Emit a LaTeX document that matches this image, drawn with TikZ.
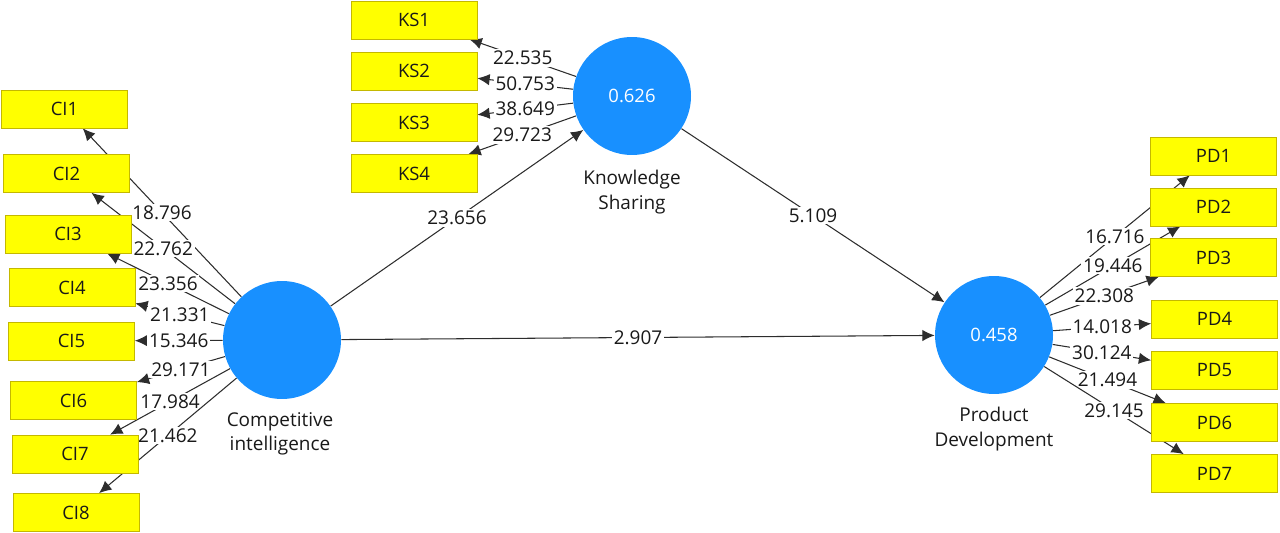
\documentclass[tikz,border=0pt]{standalone}
\usepackage{fontspec}
\setmainfont{Open Sans}
\usetikzlibrary{arrows.meta}
\pgfdeclarelayer{bg}
\pgfsetlayers{bg,main}
\definecolor{lvblue}{RGB}{24,144,255}
\definecolor{mvyellow}{RGB}{255,255,0}
\definecolor{mvborder}{RGB}{196,184,0}
\definecolor{pathgray}{RGB}{45,45,45}
\definecolor{txtgray}{RGB}{25,25,25}

\begin{document}
\begin{tikzpicture}[x=0.02cm,y=-0.02cm,
  mv/.style={draw=mvborder,fill=mvyellow,minimum width=2.52cm,minimum height=0.76cm,inner sep=0pt,text=txtgray,font=\fontsize{10.5}{12}\selectfont},
  lv/.style={circle,fill=lvblue,minimum size=2.36cm,inner sep=0pt,text=white,font=\fontsize{10.5}{12}\selectfont},
  lvname/.style={align=center,text=txtgray,font=\fontsize{10.8}{14}\selectfont},
  arr/.style={draw=pathgray,line width=0.6pt,-{Latex[length=7pt,width=6.5pt]}},
  val/.style={fill=white,inner sep=1pt,text=txtgray,font=\fontsize{10.8}{12}\selectfont}]
\useasboundingbox (0,0) rectangle (1280,533);
%----------------latent variables----------
\node[lv] (ci) at (282,340) {};
\node[lv] (ks) at (632,96) {0.626};
\node[lv] (pd) at (994,335) {0.458};
\node[lvname] (ciname) at (280,434) {Competitive\\intelligence};
\node[lvname] (ksname) at (632,192) {Knowledge\\Sharing};
\node[lvname] (pdname) at (994,429) {Product\\Development};
%----------------indicators CI----------
\node[mv] (ci1) at (64.5,109) {CI1};
\node[mv] (ci2) at (66.5,173.5) {CI2};
\node[mv] (ci3) at (68,234) {CI3};
\node[mv] (ci4) at (72,287.5) {CI4};
\node[mv] (ci5) at (71.5,341) {CI5};
\node[mv] (ci6) at (73.5,400.5) {CI6};
\node[mv] (ci7) at (75,454) {CI7};
\node[mv] (ci8) at (76,512.5) {CI8};
%----------------indicators KS----------
\node[mv] (ks1) at (414,20) {KS1};
\node[mv] (ks2) at (414,71) {KS2};
\node[mv] (ks3) at (414,122.5) {KS3};
\node[mv] (ks4) at (414,173.5) {KS4};
%----------------indicators PD----------
\node[mv] (pd1) at (1213.5,156) {PD1};
\node[mv] (pd2) at (1213.5,207) {PD2};
\node[mv] (pd3) at (1213.5,257.5) {PD3};
\node[mv] (pd4) at (1214.5,319) {PD4};
\node[mv] (pd5) at (1214.5,370.5) {PD5};
\node[mv] (pd6) at (1214.5,422.5) {PD6};
\node[mv] (pd7) at (1214.5,473.5) {PD7};
\begin{pgfonlayer}{bg}
%----------------outer loadings----------
\draw[arr](ci)--node[val]{18.796}(ci1);
\draw[arr](ci)--node[val]{22.762}(ci2);
\draw[arr](ci)--node[val]{23.356}(ci3);
\draw[arr](ci)--node[val]{21.331}(ci4);
\draw[arr](ci)--node[val]{15.346}(ci5);
\draw[arr](ci)--node[val]{29.171}(ci6);
\draw[arr](ci)--node[val]{17.984}(ci7);
\draw[arr](ci)--node[val]{21.462}(ci8);
\draw[arr](ks)--node[val]{22.535}(ks1);
\draw[arr](ks)--node[val]{50.753}(ks2);
\draw[arr](ks)--node[val]{38.649}(ks3);
\draw[arr](ks)--node[val]{29.723}(ks4);
\draw[arr](pd)--node[val]{16.716}(pd1);
\draw[arr](pd)--node[val]{19.446}(pd2);
\draw[arr](pd)--node[val]{22.308}(pd3);
\draw[arr](pd)--node[val]{14.018}(pd4);
\draw[arr](pd)--node[val]{30.124}(pd5);
\draw[arr](pd)--node[val]{21.494}(pd6);
\draw[arr](pd)--node[val]{29.145}(pd7);
%----------------inner model----------
\draw[arr](ci)--node[val]{23.656}(ks);
\draw[arr](ks)--node[val]{5.109}(pd);
\draw[arr](ci)--node[val]{2.907}(pd);
\end{pgfonlayer}
\end{tikzpicture}
\end{document}
